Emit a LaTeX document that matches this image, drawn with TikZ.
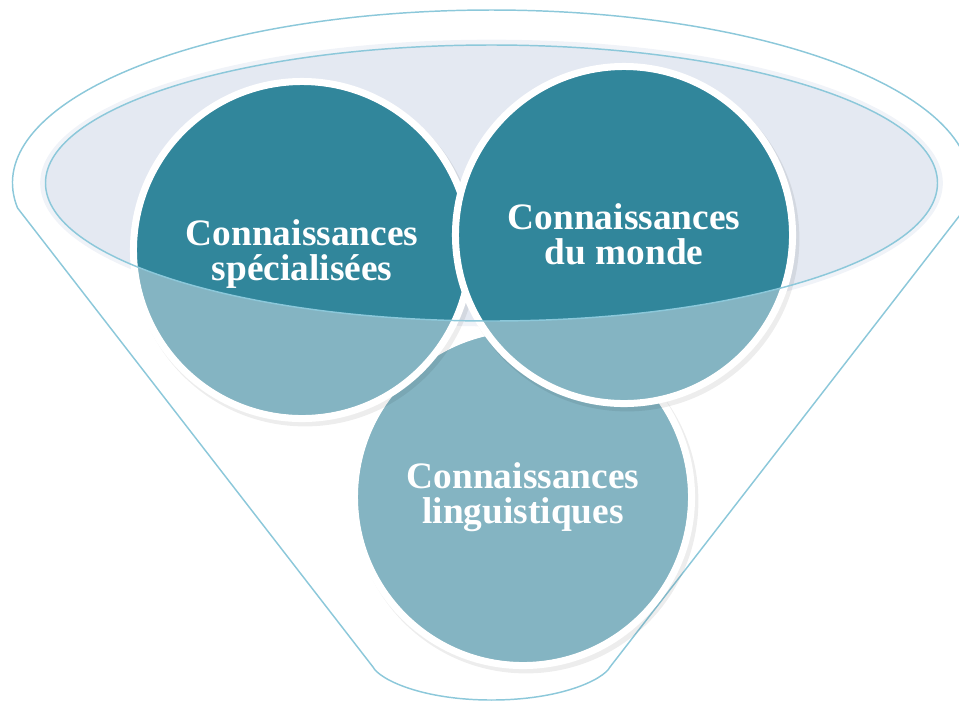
\documentclass[tikz,border=0pt]{standalone}
\usepackage{fontspec}
\setmainfont{Liberation Serif}
\definecolor{darkteal}{RGB}{49,134,155}
\definecolor{lightteal}{RGB}{132,180,194}
\definecolor{lavender}{RGB}{228,233,242}
\definecolor{halo}{RGB}{240,243,248}
\definecolor{lineblue}{RGB}{140,200,218}
\tikzset{
  funnelline/.style={draw=lineblue, line width=1.1pt, line join=round},
  bubbleborder/.style={draw=white, line width=5.25pt},
  bubbleshadow/.style={fill=black, opacity=0.07},
  bubbletext/.style={text=white, align=center, inner sep=0pt,
     font=\fontsize{28}{26.25}\selectfont\bfseries}
}
\begin{document}
\begin{tikzpicture}[x=0.75pt,y=-0.75pt]
\useasboundingbox (0,0) rectangle (959,701);
% funnel outline
\coordinate (fc) at (491.5,183);
\draw[funnelline] (fc) ++(188.31:359.25pt and 129.75pt)
  arc[start angle=188.31, end angle=-8.31, x radius=359.25pt, y radius=129.75pt]
  -- (610,667) .. controls (603,680) and (560,700) .. (491.5,700)
  .. controls (423,700) and (380,680) .. (373,667) -- cycle;
% ellipse (funnel top)
\fill[halo] (fc) ellipse[x radius=338.5pt, y radius=107.5pt];
\fill[lavender] (fc) ellipse[x radius=334.5pt, y radius=103.5pt];
% bottom bubble
\coordinate (cl) at (523,497);
\fill[bubbleshadow] (526,501) circle[radius=129.3pt];
\fill[lightteal] (cl) circle[radius=124pt];
\draw[bubbleborder] (cl) circle[radius=126.4pt];
% left bubble
\coordinate (cs) at (302,250);
\fill[bubbleshadow] (305,254) circle[radius=129.3pt];
\fill[lightteal] (cs) circle[radius=124pt];
\begin{scope}
  \clip (fc) ellipse[x radius=334.5pt, y radius=103.5pt];
  \fill[darkteal] (cs) circle[radius=124pt];
\end{scope}
\draw[bubbleborder] (cs) circle[radius=126.4pt];
% right bubble
\coordinate (cm) at (624,235);
\fill[bubbleshadow] (627,239) circle[radius=129.3pt];
\fill[lightteal] (cm) circle[radius=124pt];
\begin{scope}
  \clip (fc) ellipse[x radius=334.5pt, y radius=103.5pt];
  \fill[darkteal] (cm) circle[radius=124pt];
\end{scope}
\draw[bubbleborder] (cm) circle[radius=126.4pt];
% ellipse outline
\draw[draw=lineblue, line width=1.1pt] (fc) ellipse[x radius=334.5pt, y radius=103.5pt];
% texts
\node[bubbletext] (tspec) at (302,254) {Connaissances\\spécialisées};
\node[bubbletext] (tmonde) at (624,234) {Connaissances\\du monde};
\node[bubbletext] (tling) at (523,497) {Connaissances\\linguistiques};
\end{tikzpicture}
\end{document}
